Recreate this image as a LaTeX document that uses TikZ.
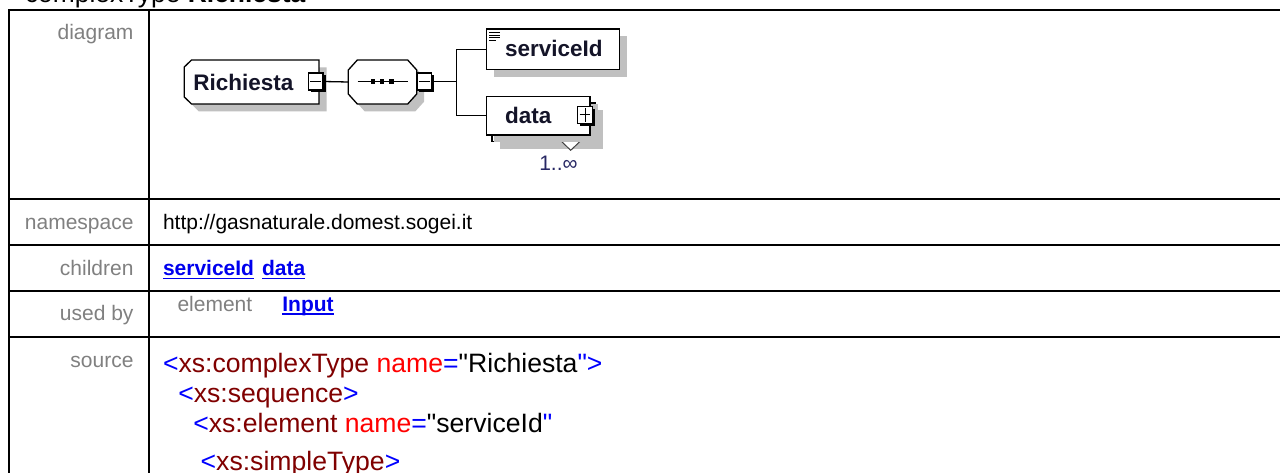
\documentclass[tikz,border=0pt]{standalone}
\usepackage{fontspec}
\setmainfont{Liberation Sans}
\newfontfamily\srcfont{Liberation Sans}[Ligatures=TeXOff]
\usetikzlibrary{calc}
\definecolor{lblgray}{RGB}{128,128,128}
\definecolor{shdgray}{RGB}{192,192,192}
\definecolor{lnkblue}{RGB}{0,0,238}
\definecolor{xmlblue}{RGB}{0,0,255}
\definecolor{xmlmar}{RGB}{128,0,0}
\definecolor{xmlred}{RGB}{255,0,0}
\definecolor{cardcol}{RGB}{40,40,100}
\definecolor{namecol}{RGB}{20,20,40}
\newcommand{\setfs}[1]{\fontsize{#1}{#1}\selectfont}
\newcommand{\xb}[1]{\textcolor{xmlblue}{#1}}
\newcommand{\xm}[1]{\textcolor{xmlmar}{#1}}
\newcommand{\xr}[1]{\textcolor{xmlred}{#1}}
\begin{document}
\begin{tikzpicture}[x=1pt,y=-1pt,
  txt/.style={inner sep=0pt, outer sep=0pt},
  rowlabel/.style={txt, anchor=base east, text=lblgray, font=\setfs{21}},
  rowval/.style={txt, anchor=base west, font=\setfs{21}},
  linktext/.style={txt, anchor=base west, text=lnkblue, font=\setfs{21}\bfseries},
  linkrule/.style={draw=lnkblue, line width=1.5pt},
  srctext/.style={txt, anchor=base west, font=\srcfont\setfs{26.6}},
  tline/.style={line width=2pt},
  elname/.style={txt, anchor=base west, text=namecol, font=\setfs{22.5}\bfseries},
  boxline/.style={line width=1.3pt},
  gshadow/.style={preaction={fill=shdgray, draw=none, transform canvas={xshift=7.5pt, yshift=-7.5pt}}},
  elbox/.style={draw, boxline, fill=white, inner sep=0pt, gshadow},
  pmbox/.style={draw, line width=1.2pt, fill=white, inner sep=0pt, minimum width=14.5pt, minimum height=17pt,
    preaction={fill=black, draw=none, transform canvas={xshift=2.5pt, yshift=-2.5pt}}},
  conn/.style={line width=1.3pt},
]
\useasboundingbox (0,0) rectangle (1280,473);
\fill[white] (0,0) rectangle (1280,473);

% title (cut off at top)
\node[txt, anchor=base west, font=\setfs{26.4}] (title) at (25,3) {complexType \textbf{Richiesta}};

% table grid
\draw[tline] (8.5,474) -- (8.5,10) -- (1281,10);
\draw[tline] (149,10) -- (149,474);
\foreach \yy in {199.2,245.2,291.2,336.8} \draw[tline] (8.5,\yy) -- (1281,\yy);

% row labels
\node[rowlabel] (ldiag) at (133.5,40) {diagram};
\node[rowlabel] (lns) at (133.5,229.5) {namespace};
\node[rowlabel] (lch) at (133.5,275.5) {children};
\node[rowlabel] (lub) at (133.5,320.5) {used by};
\node[rowlabel] (lsrc) at (133.5,367) {source};

% namespace
\node[rowval] (nsval) at (163,229.5) {http://gasnaturale.domest.sogei.it};

% children links
\node[linktext] (ch1) at (163,275.5) {serviceId};
\node[linktext] (ch2) at (262,275.5) {data};
\draw[linkrule] ([yshift=-3pt]ch1.base west) -- ([yshift=-3pt]ch1.base east);
\draw[linkrule] ([yshift=-3pt]ch2.base west) -- ([yshift=-3pt]ch2.base east);

% used by
\node[rowval, text=lblgray] (ubkind) at (177.5,311) {element};
\node[linktext] (ubel) at (282.4,311) {Input};
\draw[linkrule] ([yshift=-3pt]ubel.base west) -- ([yshift=-3pt]ubel.base east);

% source
\node[srctext] (s1) at (163,372) {\xb{<}\xm{xs:complexType} \xr{name}\xb{=}"Richiesta\xb{">}};
\node[srctext] (s2) at (178.3,402.5) {\xb{<}\xm{xs:sequence}\xb{>}};
\node[srctext] (s3) at (193.3,432) {\xb{<}\xm{xs:element} \xr{name}\xb{=}"serviceId\xb{"}};
\node[srctext] (s4) at (200.7,470.5) {\xb{<}\xm{xs:simpleType}\xb{>}};

% ---------- diagram ----------
% Richiesta complex type box
\draw[boxline, fill=white, gshadow] (184.3,67) -- (191.5,60) -- (319,60) -- (319,104) -- (191.5,104) -- (184.3,97) -- cycle;
\node[elname] (rich) at (193.3,90.5) {Richiesta};
\node[pmbox] (m1) at (315.8,81.5) {};
\draw[line width=1pt] ([xshift=2.5pt]m1.west) -- ([xshift=-2.5pt]m1.east);

% sequence compositor
\draw[boxline, fill=white, gshadow] (348.3,70) -- (357.3,60) -- (407.7,60) -- (416.7,70) -- (416.7,94) -- (407.7,104) -- (357.3,104) -- (348.3,94) -- cycle;
\node[txt, minimum width=68.4pt, minimum height=44pt] (seq) at (382.5,82) {};
\draw[line width=1pt] (357.7,81.7) -- (408.3,81.7);
\foreach \xx in {373,382.2,391.3} \fill (\xx-2.2,79.5) rectangle (\xx+2.2,83.9);
\node[pmbox] (m2) at (424.2,81.5) {};
\draw[line width=1pt] ([xshift=2.5pt]m2.west) -- ([xshift=-2.5pt]m2.east);

% serviceId element
\node[elbox, minimum width=133pt, minimum height=40.5pt] (sid) at (553,49.25) {};
\foreach \yy/\ll in {32.3/11,35/11,37.7/11,40.4/7} \draw[line width=0.9pt] (489,\yy) -- ++(\ll,0);
\node[elname] (sidtext) at (505,56.7) {serviceId};

% data element (repeated)
\draw[boxline, fill=white, gshadow] (492,103) rectangle (595.5,141.5);
\fill[white] (561.5,142.2) -- (570.7,150.3) -- (580,142.2) -- cycle;
\draw[line width=1pt, draw=black!75] (561.5,141.5) -- (570.7,150.3) -- (580,141.5);
\node[elbox, preaction={}, minimum width=103.5pt, minimum height=38.3pt] (dat) at (538.25,115.85) {};
\node[elname] (dattext) at (505,123.3) {data};
\node[pmbox] (p1) at (585,115) {};
\draw[line width=1pt] ([xshift=2.5pt]p1.west) -- ([xshift=-2.5pt]p1.east);
\draw[line width=1pt] ([yshift=-2.5pt]p1.north) -- ([yshift=2.5pt]p1.south);
\node[txt, anchor=base west, font=\setfs{21}, text=cardcol] (card) at (539.3,171) {1..∞};

% connectors
\coordinate (fork) at (456.7,81.5);
\draw[conn] (m1.east) -- (seq.west);
\draw[conn] (m2.east) -- (fork) |- (sid.west);
\draw[conn] (fork) |- (dat.west);
\end{tikzpicture}
\end{document}
